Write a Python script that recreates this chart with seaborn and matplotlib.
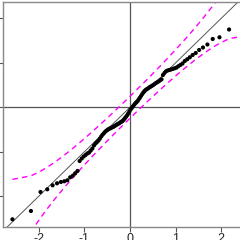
import numpy as np
import pandas as pd
import matplotlib
matplotlib.use("Agg")
import matplotlib.pyplot as plt
import seaborn as sns
from statistics import NormalDist

# Sorted sample values (standardized)
sample = [
    -2.517, -2.330, -1.903, -1.843, -1.753, -1.708, -1.679, -1.663, -1.640, -1.573,
    -1.537, -1.483, -1.431, -1.207, -1.151, -1.106, -1.072, -1.038, -1.016, -0.971,
    -0.926, -0.858, -0.813, -0.780, -0.746, -0.701, -0.652, -0.612, -0.578, -0.544,
    -0.521, -0.499, -0.483, -0.470, -0.454, -0.443, -0.425, -0.409, -0.391, -0.375,
    -0.360, -0.342, -0.326, -0.308, -0.279, -0.247, -0.213, -0.180, -0.139, -0.094,
    -0.049, -0.016, 0.018, 0.052, 0.085, 0.112, 0.137, 0.175, 0.213, 0.254,
    0.294, 0.333, 0.366, 0.393, 0.411, 0.427, 0.449, 0.465, 0.483, 0.501,
    0.524, 0.546, 0.564, 0.584, 0.607, 0.629, 0.726, 0.771, 0.809, 0.827,
    0.838, 0.849, 0.861, 0.876, 0.890, 0.921, 0.951, 0.984, 1.040, 1.079,
    1.124, 1.175, 1.220, 1.288, 1.344, 1.411, 1.535, 1.573, 1.748, 2.142,
]

x_ticks = [-2, -1, 0, 1, 2]
x_tick_labels = ["-2", "-1", "0", "1", "2"]
y_ticks = [-2, -1, 0, 1, 2]

# Theoretical normal quantiles (ppoints) and a pointwise 95% envelope around y = x
n = len(sample)
norm = NormalDist()
probs = np.array([(i + 0.5) / n for i in range(n)])
theoretical = np.array([norm.inv_cdf(p) for p in probs])
dens = np.array([norm.pdf(z) for z in theoretical])
se = np.sqrt(probs * (1 - probs) / n) / dens

df = pd.DataFrame({
    "theoretical": theoretical,
    "sample": sample,
    "upper": theoretical + 1.96 * se,
    "lower": theoretical - 1.96 * se,
})

sns.set_style("ticks")
plt.rcParams["font.family"] = ["Liberation Sans", "DejaVu Sans"]
plt.rcParams["axes.unicode_minus"] = False

fig = plt.figure(figsize=(2.4, 2.4), dpi=100)
# axes run past the right edge, as in the cropped original
ax = fig.add_axes([3 / 240, 13 / 240, 254 / 240, 225 / 240])

ax.axhline(0, color="#555555", lw=0.9, zorder=1)
ax.axvline(0, color="#555555", lw=0.9, zorder=1)
ax.axline((0, 0), slope=1, color="#555555", lw=0.7, zorder=1)

for col in ["upper", "lower"]:
    sns.lineplot(data=df, x="theoretical", y=col, color="#ff00ff", lw=1.0,
                 linestyle=(0, (4, 3)), ax=ax, zorder=2)

sns.scatterplot(data=df, x="theoretical", y="sample", color="black", s=9,
                edgecolor="none", ax=ax, zorder=3)

ax.set_xlim(-2.782, 2.782)
ax.set_ylim(-2.69, 2.366)
ax.set_xticks(x_ticks)
ax.set_xticklabels(x_tick_labels)
ax.set_yticks(y_ticks)
ax.set_xlabel("")
ax.set_ylabel("")
ax.tick_params(length=3.5, width=0.8, color="#555555", labelsize=9, pad=1)
for spine in ax.spines.values():
    spine.set_visible(True)
    spine.set_color("#888888")
    spine.set_linewidth(1.0)

fig.savefig("out.png", dpi=100)
